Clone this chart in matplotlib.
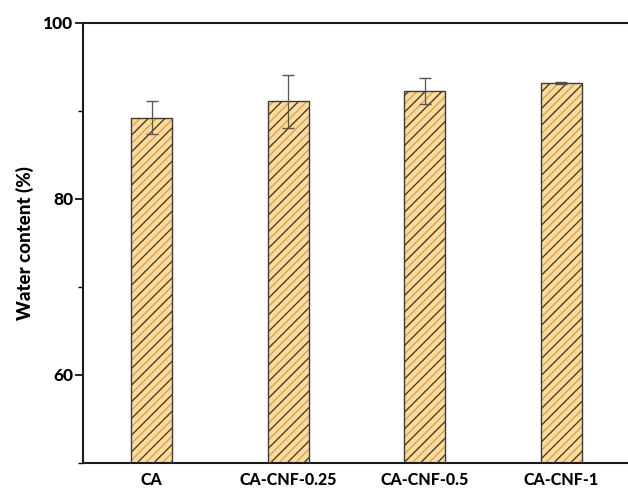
import matplotlib
matplotlib.use("Agg")
import matplotlib.pyplot as plt
from matplotlib.ticker import MultipleLocator

# Water content of the samples (mean and standard deviation, %)
samples = ["CA", "CA-CNF-0.25", "CA-CNF-0.5", "CA-CNF-1"]
water_content = [89.2, 91.05, 92.25, 93.15]
water_sd = [1.85, 3.05, 1.5, 0.08]

plt.rcParams["font.family"] = ["Lato", "DejaVu Sans"]
plt.rcParams["hatch.linewidth"] = 0.9

fig = plt.figure(figsize=(6.28, 4.90), dpi=100)
ax = fig.add_axes([83.3 / 628, 1 - 462.7 / 490, 546.5 / 628, 440 / 490])

x = list(range(len(samples)))
face = "#FFDB99"

# base bars with a fine, light hatch
ax.bar(x, water_content, width=0.30, color=face, edgecolor="#C99E6B",
       hatch="////", linewidth=0, zorder=2)
# coarser dark hatch laid on top, plus the outline
ax.bar(x, water_content, width=0.30, color="none", edgecolor="#4A3A2A",
       hatch="//", linewidth=0, zorder=3)
ax.bar(x, water_content, width=0.30, color="none", edgecolor="#3C3C3C",
       linewidth=1.0, zorder=4)

ax.errorbar(x, water_content, yerr=water_sd, fmt="none", ecolor="#555555",
            elinewidth=0.9, capsize=4, capthick=1.0, zorder=5)

ax.set_xlim(-0.5, 3.5)
ax.set_ylim(50, 100)
ax.set_xticks(x)
ax.set_xticklabels(samples, fontsize=11.5, fontweight="black")
ax.set_yticks([60, 80, 100])
ax.yaxis.set_minor_locator(MultipleLocator(10))
ax.tick_params(axis="y", which="major", direction="out", length=6, width=1.2,
               labelsize=12.5, pad=1)
ax.tick_params(axis="y", which="minor", direction="out", length=3.5, width=1.0)
ax.tick_params(axis="x", which="both", length=0, pad=7)
for lbl in ax.get_yticklabels():
    lbl.set_fontweight("black")

ax.set_ylabel("Water content (%)", fontsize=13.5, fontweight="black", labelpad=7)

for side in ["left", "bottom", "top"]:
    ax.spines[side].set_linewidth(1.5)
    ax.spines[side].set_color("#1a1a1a")
ax.spines["right"].set_visible(False)

fig.savefig("out.png", dpi=100)
